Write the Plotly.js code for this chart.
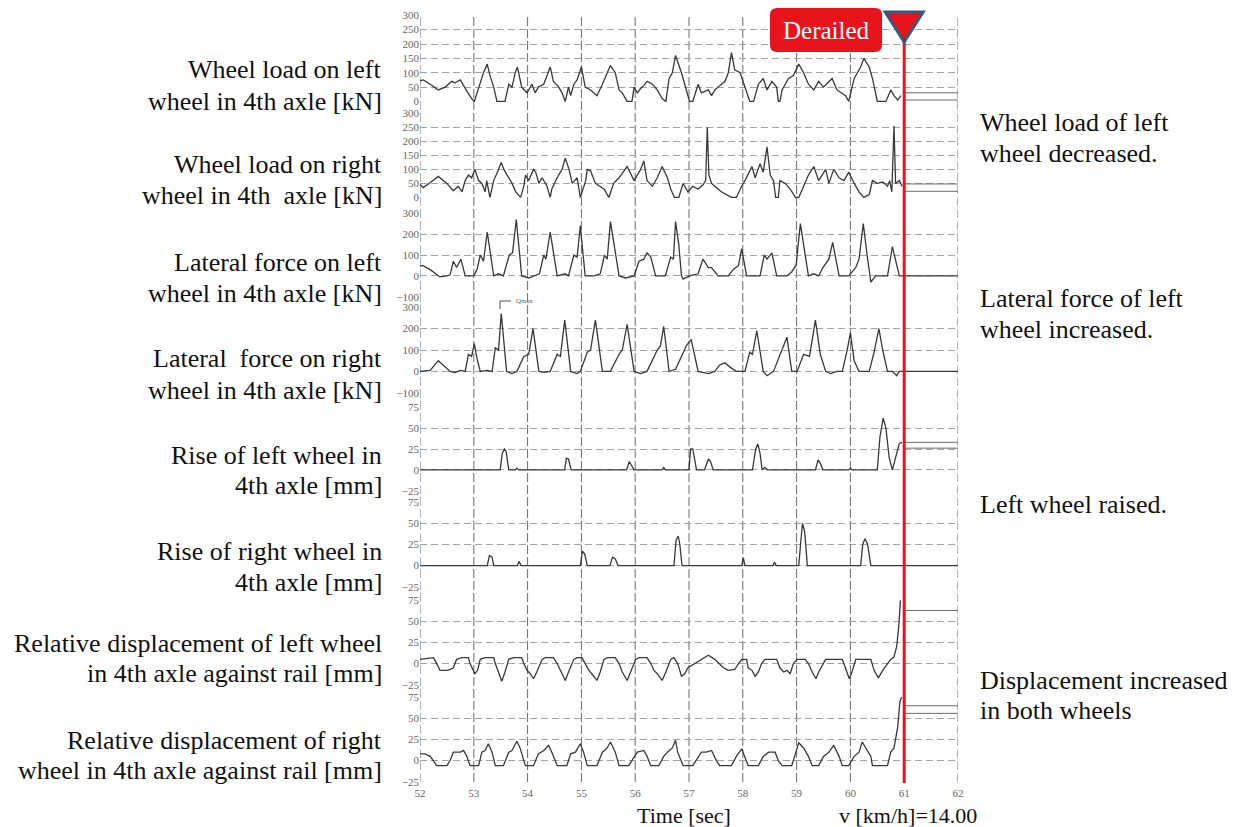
<!DOCTYPE html>
<html>
<head>
<meta charset="utf-8">
<script src="https://cdn.plot.ly/plotly-3.0.1.min.js"></script>
<style>
  html, body { margin: 0; padding: 0; background: #ffffff; }
  #chart { width: 1240px; height: 827px; }
</style>
</head>
<body>
<div id="chart"></div>
<script>
// ---- time axis ------------------------------------------------------------
const T_RANGE = [52, 62];
const TIME_TICKS = [52, 53, 54, 55, 56, 57, 58, 59, 60, 61, 62];
const DERAIL_TIME = 61;
const SPEED_TEXT = "v [km/h]=14.00";

// ---- axis scales ----------------------------------------------------------
const TICKS_LOAD = [0, 50, 100, 150, 200, 250, 300];
const TICKS_LAT = [-100, 0, 100, 200, 300];
const TICKS_MM = [-25, 0, 25, 50, 75];

// ---- wheel load, left wheel [kN] ------------------------------------------
const T_WL_L = [52.00,52.06,52.19,52.34,52.47,52.59,52.65,52.75,52.81,52.90,
  52.96,53.01,53.06,53.12,53.18,53.25,53.30,53.37,53.43,53.58,
  53.65,53.71,53.77,53.81,53.89,53.99,54.08,54.14,54.20,54.30,
  54.36,54.42,54.48,54.58,54.64,54.70,54.76,54.80,54.86,54.92,
  55.00,55.07,55.17,55.29,55.39,55.48,55.54,55.63,55.70,55.76,
  55.85,55.94,55.98,56.04,56.10,56.16,56.22,56.32,56.41,56.50,
  56.57,56.63,56.69,56.75,56.81,
  56.86,56.92,57.01,57.07,57.17,57.23,57.36,57.42,57.48,57.57,
  57.67,57.73,57.79,57.85,57.95,58.04,58.13,58.20,58.29,58.38,
  58.45,58.54,58.63,58.66,58.69,58.73,58.85,58.94,59.04,59.13,
  59.22,59.32,59.41,59.50,59.66,59.75,59.91,59.97,60.07,60.19,
  60.25,60.35,60.41,60.50,60.66,60.75,60.81,60.88,60.94];
const V_WL_L = [72,75,60,40,50,70,65,75,55,25,
  10,0,30,60,100,130,90,50,0,0,
  60,50,100,120,50,30,60,30,50,60,
  90,120,70,50,30,0,50,20,60,75,
  120,50,40,20,60,100,125,100,40,30,
  0,0,50,30,45,55,70,60,40,10,
  0,80,100,160,130,
  100,60,0,0,60,30,40,20,40,55,
  70,100,170,110,100,50,0,0,60,80,
  40,70,50,0,0,40,80,90,130,100,
  60,40,70,50,80,40,20,0,80,120,
  150,120,80,0,0,40,20,5,20];
const HOLD_WL_L = [30, 5];

// ---- wheel load, right wheel [kN] -----------------------------------------
const T_WL_R = [52.00,52.06,52.19,52.34,52.50,52.62,52.71,52.78,52.84,52.90,
  52.96,53.02,53.09,53.15,53.21,53.24,53.30,53.34,53.37,53.46,
  53.51,53.56,53.62,53.71,53.78,53.87,53.93,53.96,54.02,54.11,
  54.15,54.21,54.27,54.36,54.42,54.45,54.55,54.64,54.70,54.77,
  54.83,54.92,54.98,55.08,55.11,55.17,55.26,55.42,55.51,55.60,
  55.70,55.85,55.98,56.10,56.16,56.22,56.32,56.41,56.50,56.60,
  56.66,56.73,56.81,
  56.89,56.98,57.07,57.17,57.26,57.31,57.34,57.37,57.42,57.48,
  57.60,57.79,57.88,57.98,58.04,58.17,58.23,58.32,58.38,58.45,
  58.51,58.57,58.61,58.66,58.69,58.79,58.88,58.98,59.04,59.13,
  59.22,59.32,59.41,59.54,59.60,59.69,59.79,59.88,59.97,60.07,
  60.16,60.25,60.35,60.41,60.50,60.60,60.69,60.73,60.77,60.81,
  60.84,60.91,60.96];
const V_WL_R = [47,35,53,75,50,24,40,20,60,80,
  70,100,60,50,20,60,0,30,60,100,
  125,100,80,50,20,0,40,80,60,100,
  90,50,70,40,0,30,70,100,140,100,
  50,70,0,60,100,95,50,30,0,50,
  70,110,60,100,130,60,40,70,110,70,
  30,0,0,
  50,20,40,30,45,60,250,80,50,40,
  20,0,0,40,60,110,70,120,90,180,
  80,60,0,0,60,50,30,0,0,40,
  80,110,60,100,50,100,70,60,90,50,
  20,0,10,60,50,55,40,60,20,255,
  50,60,40];
const HOLD_WL_R = [48, 22];

// ---- lateral force, left wheel [kN] ---------------------------------------
const T_LF_L = [52.00,52.05,52.19,52.31,52.37,52.50,52.56,52.62,52.68,52.76,
  52.84,53.00,53.06,53.12,53.18,53.25,53.37,53.46,53.55,53.66,
  53.72,53.79,53.89,54.02,54.11,54.22,54.30,54.34,54.42,54.55,
  54.70,54.76,54.86,54.92,54.98,55.07,55.23,55.35,55.43,55.48,
  55.54,55.63,55.70,55.82,55.98,56.07,56.16,56.22,56.29,56.38,
  56.56,56.66,56.71,56.75,56.81,
  56.86,56.89,57.01,57.17,57.22,57.26,57.36,57.42,57.54,57.73,
  57.82,57.92,57.98,58.07,58.32,58.40,58.45,58.54,58.63,58.82,
  58.91,58.99,59.07,59.13,59.22,59.32,59.41,59.49,59.60,59.67,
  59.79,59.97,60.10,60.16,60.24,60.31,60.38,60.47,60.69,60.78,
  60.91,62.00];
const V_LF_L = [45,50,30,5,-5,0,5,70,40,80,
  0,0,30,100,70,210,0,10,0,100,
  110,270,0,-10,0,10,100,80,210,0,
  10,0,100,90,240,0,0,10,100,80,
  260,100,0,-10,0,70,80,110,90,0,
  0,90,80,260,150,
  0,-15,0,10,50,80,40,40,0,0,
  30,50,130,0,0,100,80,110,0,0,
  20,50,250,150,0,10,0,40,80,160,
  0,0,40,80,250,100,-30,0,0,140,
  0,0];
const HOLD_LF_L = [];

// ---- lateral force, right wheel [kN] --------------------------------------
const T_LF_R = [52.00,52.19,52.34,52.43,52.56,52.65,52.75,52.84,52.90,52.96,
  53.01,53.06,53.12,53.24,53.34,53.40,53.46,53.51,53.61,53.71,
  53.80,53.93,54.02,54.10,54.21,54.30,54.42,54.55,54.61,54.69,
  54.80,54.92,54.98,55.11,55.17,55.26,55.39,55.54,55.70,55.76,
  55.85,55.98,56.10,56.22,56.41,56.47,56.53,56.63,56.75,
  56.86,56.95,57.04,57.17,57.36,57.48,57.57,57.67,57.76,57.88,
  58.04,58.13,58.18,58.26,58.38,58.45,58.57,58.69,58.82,58.91,
  59.01,59.13,59.24,59.35,59.44,59.54,59.63,59.75,59.85,59.94,
  60.00,60.07,60.16,60.35,60.44,60.53,60.60,60.69,60.78,60.86,
  60.91,62.00];
const V_LF_R = [0,5,50,30,0,-5,5,0,80,70,
  130,60,0,5,0,110,100,270,0,-10,
  0,70,80,200,0,-5,0,80,70,240,
  0,-10,0,90,100,240,0,0,80,100,
  220,0,-10,0,100,120,210,0,10,
  70,120,150,0,-10,0,30,40,20,0,
  0,90,80,190,0,-20,0,80,160,0,
  0,80,70,240,80,0,-10,0,0,100,
  180,50,0,0,90,200,100,0,0,-20,
  0,0];
const HOLD_LF_R = [];

// ---- rise of left wheel [mm] ----------------------------------------------
const T_RISE_L = [52.00,53.49,53.53,53.57,53.60,53.65,53.77,53.80,53.83,
  54.69,54.72,54.76,54.81,55.84,55.89,55.94,55.98,56.50,56.53,56.56,
  57.00,57.03,57.07,57.14,57.29,57.36,57.40,57.45,
  58.18,58.24,58.28,58.32,58.36,58.41,58.46,
  59.35,59.40,59.44,59.49,59.97,60.00,60.03,
  60.50,60.55,60.61,60.66,60.72,60.78,60.84,60.91,60.96];
const V_RISE_L = [0,0,20,25,22,0,0,2,0,
  0,14,13,0,0,10,5,0,0,3,0,
  0,25,25,0,0,13,10,0,
  0,25,31,20,0,3,0,
  0,12,8,0,0,2,0,
  0,40,62,50,15,0,15,32,33];
const HOLD_RISE_L = [33, 26];

// ---- rise of right wheel [mm] ---------------------------------------------
const T_RISE_R = [52.00,53.25,53.29,53.34,53.37,53.81,53.84,53.88,
  54.98,55.02,55.06,55.11,55.53,55.58,55.63,55.68,
  56.72,56.76,56.80,56.83,56.87,57.98,58.01,58.04,58.56,58.59,58.62,
  59.04,59.08,59.11,59.15,59.20,60.19,60.23,60.27,60.32,60.38,62.00];
const V_RISE_R = [0,0,12,10,0,0,5,0,
  0,17,14,0,0,10,8,0,
  0,30,35,25,0,0,9,0,0,4,0,
  0,30,50,40,0,0,25,32,25,0,0];
const HOLD_RISE_R = [];

// ---- relative displacement against rail, left wheel [mm] ------------------
const T_DISP_L = [52.00,52.19,52.25,52.31,52.37,52.50,52.56,52.62,52.68,52.78,
  52.90,52.93,53.00,53.02,53.07,53.12,53.21,53.37,53.40,53.46,
  53.52,53.58,53.65,53.74,53.89,53.93,53.99,54.05,54.11,54.17,
  54.27,54.33,54.48,54.55,54.64,54.70,54.76,54.86,54.92,55.01,
  55.07,55.14,55.23,55.29,55.35,55.42,55.48,55.63,55.70,55.76,
  55.85,55.91,56.01,56.07,56.22,56.29,56.35,56.41,56.50,56.57,
  56.66,56.72,
  56.79,56.86,56.92,56.98,57.11,57.23,57.36,57.48,57.57,57.64,
  57.73,57.85,57.92,57.98,58.07,58.10,58.17,58.23,58.29,58.35,
  58.41,58.63,58.69,58.76,58.82,58.88,58.94,59.01,59.16,59.22,
  59.29,59.36,59.41,59.54,59.85,59.91,59.98,60.03,60.10,60.38,
  60.44,60.52,60.60,60.69,60.75,60.81,60.86,60.90,60.93];
const V_DISP_L = [5,7,7,0,-8,-8,-7,-5,5,7,
  7,0,-10,-12,-8,5,7,7,0,-10,
  -21,-10,5,7,7,0,-8,-12,-18,-10,
  5,7,7,0,-12,-20,-10,5,7,7,
  0,-8,-15,-20,-10,5,7,7,0,-10,
  -20,-10,5,7,7,0,-8,-12,-20,-10,
  5,7,
  0,-15,-12,-5,0,5,10,5,0,-5,
  -8,-7,0,5,5,-5,-8,-15,-10,0,
  5,5,-5,-10,-8,-12,0,5,5,0,
  -10,-18,-10,5,5,-5,-18,-10,5,5,
  -8,-17,-8,0,5,8,20,45,75];
const HOLD_DISP_L = [63];

// ---- relative displacement against rail, right wheel [mm] -----------------
const T_DISP_R = [52.00,52.09,52.19,52.25,52.31,52.50,52.56,52.62,52.75,52.81,
  52.87,52.93,53.09,53.15,53.21,53.27,53.34,53.40,53.55,53.65,
  53.71,53.80,53.86,53.93,53.96,54.11,54.20,54.30,54.39,54.45,
  54.52,54.55,54.73,54.80,54.89,54.98,55.04,55.11,55.29,55.39,
  55.48,55.54,55.63,55.70,55.88,55.98,56.04,56.16,56.22,56.29,
  56.44,56.53,56.60,56.69,56.75,
  56.79,56.86,56.89,57.07,57.17,57.23,57.32,57.42,57.51,57.57,
  57.79,57.88,57.98,58.04,58.10,58.29,58.38,58.48,58.60,58.66,
  58.73,58.91,58.98,59.04,59.13,59.22,59.29,59.41,59.50,59.60,
  59.69,59.79,59.85,59.97,60.07,60.16,60.22,60.28,60.38,60.41,
  60.69,60.75,60.81,60.88,60.92,60.95];
const V_DISP_R = [8,8,5,0,-6,-6,0,10,10,12,
  5,-6,-6,10,12,20,10,-6,-6,10,
  12,23,15,0,-6,-6,8,12,18,10,
  0,-6,-6,8,10,20,10,-6,-6,10,
  15,22,10,-6,-6,5,10,12,5,-6,
  -6,5,10,15,24,
  10,0,-6,-6,5,10,10,12,0,-6,
  -6,5,14,5,-6,-6,5,10,10,0,
  -6,-6,10,21,15,5,-6,-6,5,10,
  18,5,-6,-6,5,10,22,15,5,-6,
  -6,10,15,40,70,75];
const HOLD_DISP_R = [65, 56];

// ---- texts ----------------------------------------------------------------
const LEFT_LABELS = [
  ["Wheel load on left", "wheel in 4th axle [kN]"],
  ["Wheel load on right", "wheel in 4th  axle [kN]"],
  ["Lateral force on left", "wheel in 4th axle [kN]"],
  ["Lateral  force on right", "wheel in 4th axle [kN]"],
  ["Rise of left wheel in", "4th axle [mm]"],
  ["Rise of right wheel in", "4th axle [mm]"],
  ["Relative displacement of left wheel", "in 4th axle against rail [mm]"],
  ["Relative displacement of right", "wheel in 4th axle against rail [mm]"]
];
const RIGHT_NOTES = [
  ["Wheel load of left", "wheel decreased."],
  ["Lateral force of left", "wheel increased."],
  ["Left wheel raised."],
  ["Displacement increased", "in both wheels"]
];
const EVENT_TEXT = "Derailed";
const PEAK_TAG = "Qmax";
const X_TITLE = "Time [sec]";

// ---- page geometry (pixels) -----------------------------------------------
const PLOT_L = 420, PLOT_R = 958, PLOT_T = 15, PLOT_B = 782;
const fx = px => (px - PLOT_L) / (PLOT_R - PLOT_L);
const fy = py => (PLOT_B - py) / (PLOT_B - PLOT_T);
const PANEL_PX = [[15,102],[113,198],[213,297],[307,393],[407,491],[502,587],[600,685],[697,782]];
const LEFT_LINE_PX = [[70,101],[165,196],[262,293],[358,390],[455,486],[551,582],[643,673],[740,770]];
const NOTE_LINE_PX = [[122,153],[298,329],[505],[680,710]];

const PANELS = [
  {t: T_WL_L, v: V_WL_L, hold: HOLD_WL_L, ticks: TICKS_LOAD, pad: [-2, 301]},
  {t: T_WL_R, v: V_WL_R, hold: HOLD_WL_R, ticks: TICKS_LOAD, pad: [-2, 301]},
  {t: T_LF_L, v: V_LF_L, hold: HOLD_LF_L, ticks: TICKS_LAT, pad: [-101, 301]},
  {t: T_LF_R, v: V_LF_R, hold: HOLD_LF_R, ticks: TICKS_LAT, pad: [-101, 301]},
  {t: T_RISE_L, v: V_RISE_L, hold: HOLD_RISE_L, ticks: TICKS_MM, pad: [-25.4, 75.4]},
  {t: T_RISE_R, v: V_RISE_R, hold: HOLD_RISE_R, ticks: TICKS_MM, pad: [-25.4, 75.4]},
  {t: T_DISP_L, v: V_DISP_L, hold: HOLD_DISP_L, ticks: TICKS_MM, pad: [-25.4, 75.4]},
  {t: T_DISP_R, v: V_DISP_R, hold: HOLD_DISP_R, ticks: TICKS_MM, pad: [-25.4, 75.4]}
];

const SERIF = "Liberation Serif, Times New Roman, serif";
const RED = "#e8141c";
const traces = [];
const layout = {
  width: 1240, height: 827,
  margin: {l: PLOT_L, r: 1240 - PLOT_R, t: PLOT_T, b: 827 - PLOT_B, pad: 0},
  paper_bgcolor: "#ffffff", plot_bgcolor: "rgba(0,0,0,0)",
  showlegend: false,
  font: {family: SERIF, color: "#111"},
  shapes: [], annotations: []
};

PANELS.forEach((p, i) => {
  const n = i === 0 ? "" : String(i + 1);
  const xa = "x" + n, ya = "y" + n;
  traces.push({
    type: "scatter", mode: "lines", x: p.t, y: p.v, xaxis: xa, yaxis: ya,
    line: {color: "#383838", width: 1.3}, hoverinfo: "skip"
  });
  p.hold.forEach(h => traces.push({
    type: "scatter", mode: "lines", x: [DERAIL_TIME, T_RANGE[1]], y: [h, h],
    xaxis: xa, yaxis: ya, line: {color: "#6a6a6a", width: 1}, hoverinfo: "skip"
  }));
  const [top, bot] = PANEL_PX[i];
  const last = i === PANELS.length - 1;
  layout["xaxis" + n] = {
    domain: [0, 1], range: T_RANGE, anchor: ya, fixedrange: true,
    showgrid: false, zeroline: false, showline: false, ticks: "",
    tickvals: TIME_TICKS, showticklabels: last, ticklabelstandoff: 3,
    tickfont: {family: SERIF, size: 11, color: "#666"}
  };
  layout["yaxis" + n] = {
    domain: [fy(bot), fy(top)], range: p.pad, anchor: xa, fixedrange: true,
    tickvals: p.ticks, ticks: "", showline: false, zeroline: false,
    showgrid: true, gridcolor: "#a3a3a3", gridwidth: 1, griddash: "7px,4px",
    tickfont: {family: SERIF, size: 11, color: "#666"}
  };
  LEFT_LABELS[i].forEach((txt, k) => layout.annotations.push({
    xref: "paper", yref: "paper", x: fx(384), y: fy(LEFT_LINE_PX[i][k]),
    xanchor: "right", yanchor: "middle", showarrow: false, text: txt,
    font: {family: SERIF, size: 26, color: "#111"}
  }));
});

// one-second grid running through all panels
TIME_TICKS.forEach(t => layout.shapes.push({
  type: "line", xref: "x", yref: "paper", x0: t, x1: t, y0: 0, y1: 1,
  line: {color: "#6b6b6b", width: 1, dash: "9px,3px"}, layer: "below"
}));

// notes on the right
RIGHT_NOTES.forEach((lines, i) => lines.forEach((txt, k) => layout.annotations.push({
  xref: "paper", yref: "paper", x: fx(978), y: fy(NOTE_LINE_PX[i][k]),
  xanchor: "left", yanchor: "middle", showarrow: false, text: txt,
  font: {family: SERIF, size: 26, color: "#111"}
})));

// axis title and speed readout
layout.annotations.push({
  xref: "paper", yref: "paper", x: fx(684), y: fy(815), xanchor: "center", yanchor: "middle",
  showarrow: false, text: X_TITLE, font: {family: SERIF, size: 22, color: "#111"}
});
layout.annotations.push({
  xref: "paper", yref: "paper", x: fx(908), y: fy(815), xanchor: "center", yanchor: "middle",
  showarrow: false, text: SPEED_TEXT, font: {family: SERIF, size: 22, color: "#111"}
});

// peak marker tag on the right-wheel lateral force panel
layout.shapes.push({
  type: "path", xref: "paper", yref: "paper",
  path: `M ${fx(500)},${fy(309)} L ${fx(500)},${fy(301)} L ${fx(511)},${fy(301)}`,
  line: {color: "#555", width: 1}
});
layout.annotations.push({
  xref: "paper", yref: "paper", x: fx(514), y: fy(301), xanchor: "left", yanchor: "middle",
  showarrow: false, text: PEAK_TAG, font: {family: SERIF, size: 7, color: "#666"}
});

// derailment marker: vertical line, triangle and label box
layout.shapes.push({
  type: "line", xref: "x", yref: "paper", x0: DERAIL_TIME, x1: DERAIL_TIME,
  y0: fy(783), y1: fy(38), line: {color: RED, width: 3}, layer: "above"
});
const halfW = 19 / ((PLOT_R - PLOT_L) / (T_RANGE[1] - T_RANGE[0]));
layout.shapes.push({
  type: "path", xref: "x", yref: "paper",
  path: `M ${DERAIL_TIME - halfW},${fy(12)} L ${DERAIL_TIME + halfW},${fy(12)} L ${DERAIL_TIME},${fy(42)} Z`,
  fillcolor: RED, line: {color: "#3a5580", width: 3}, layer: "above"
});
(function () {
  const x0 = fx(770), x1 = fx(882), yb = fy(52), yt = fy(8);
  const rx = 7 / (PLOT_R - PLOT_L), ry = 7 / (PLOT_B - PLOT_T);
  layout.shapes.push({
    type: "path", xref: "paper", yref: "paper", fillcolor: RED, line: {width: 0}, layer: "above",
    path: `M ${x0 + rx},${yt} L ${x1 - rx},${yt} Q ${x1},${yt} ${x1},${yt - ry} ` +
          `L ${x1},${yb + ry} Q ${x1},${yb} ${x1 - rx},${yb} L ${x0 + rx},${yb} ` +
          `Q ${x0},${yb} ${x0},${yb + ry} L ${x0},${yt - ry} Q ${x0},${yt} ${x0 + rx},${yt} Z`
  });
})();
layout.annotations.push({
  xref: "paper", yref: "paper", x: fx(826), y: fy(31), xanchor: "center", yanchor: "middle",
  showarrow: false, text: EVENT_TEXT, font: {family: SERIF, size: 25, color: "#ffffff"}
});

Plotly.newPlot("chart", traces, layout, {displayModeBar: false, staticPlot: true});
</script>
</body>
</html>
